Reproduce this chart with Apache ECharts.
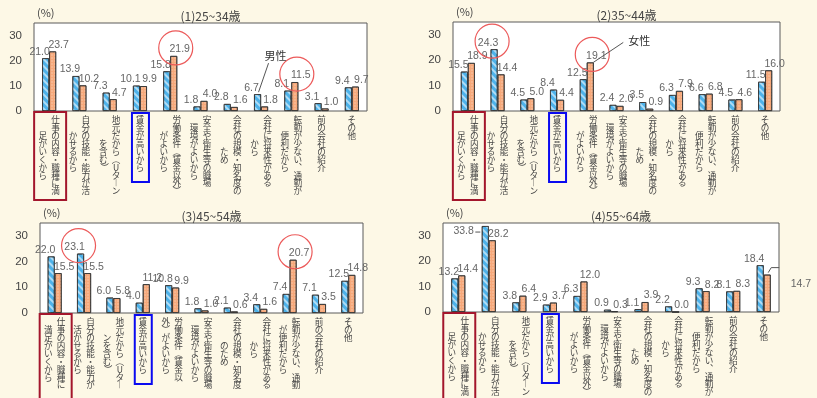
<!DOCTYPE html>
<html>
<head>
<meta charset="utf-8" />
<title>転職入職者が現在の会社を選んだ理由（年齢階級別・男女別）</title>
<script src="https://cdn.jsdelivr.net/npm/echarts@6/dist/echarts.min.js"></script>
<style>
    body { margin: 0; background-color: #fdf8e6; }
    #main { width: 817px; height: 398px; }
</style>
</head>
<body>
<div id="main"></div>
<script type="text/javascript">
    // 項目名: [右の列, 左の列]（縦書き）
    var labelsA = [
        ['仕事の内容・職種に満', '足がいくから'],
        ['自分の技能・能力が活', 'かせるから'],
        ['地元だから（Uターン', 'を含む）'],
        ['賃金が高いから'],
        ['労働条件（賃金以外）', 'がよいから'],
        ['安全や衛生等の職場', '環境がよいから'],
        ['会社の規模・知名度の', 'ため'],
        ['会社に将来性がある', 'から'],
        ['転勤が少ない、通勤が', '便利だから'],
        ['前の会社の紹介'],
        ['その他']
    ];
    var labelsC = [
        ['仕事の内容・職種に', '満足がいくから'],
        ['自分の技能・能力が', '活かせるから'],
        ['地元だから（Uター', 'ンを含む）'],
        ['賃金が高いから'],
        ['労働条件（賃金以', '外）がよいから'],
        ['安全や衛生等の職場', '環境がよいから'],
        ['会社の規模・知名度', 'のため'],
        ['会社に将来性がある', 'から'],
        ['転勤が少ない、通勤', 'が便利だから'],
        ['前の会社の紹介'],
        ['その他']
    ];
    var panelTitles = ['(1)25~34歳', '(2)35~44歳', '(3)45~54歳', '(4)55~64歳'];

    var male1   = [21.0, 13.9, 7.3, 10.1, 15.8, 1.8, 2.8, 6.7, 8.1, 3.1, 9.4];
    var female1 = [23.7, 10.2, 4.7, 9.9, 21.9, 4.0, 1.6, 1.8, 11.5, 1.0, 9.7];
    var male2   = [15.5, 24.3, 4.5, 8.4, 12.5, 2.4, 3.5, 6.3, 6.6, 4.5, 11.5];
    var female2 = [18.9, 14.4, 5.0, 4.4, 19.1, 2.0, 0.9, 7.9, 6.8, 4.6, 16.0];
    var male3   = [22.0, 23.1, 6.0, 4.0, 10.8, 1.8, 2.1, 3.4, 7.4, 7.1, 12.5];
    var female3 = [15.5, 15.5, 5.8, 11.2, 9.9, 1.0, 0.6, 1.6, 20.7, 3.5, 14.8];
    var male4   = [13.2, 33.8, 3.8, 2.9, 6.3, 0.9, 1.1, 2.2, 9.3, 8.1, 18.4];
    var female4 = [14.4, 28.2, 6.4, 3.7, 12.0, 0.3, 3.9, 0.0, 8.2, 8.3, 14.7];

    var yTicks = [0, 10, 20, 30];

    // 赤丸で囲む値: [パネル, 0=男性/1=女性, 項目番号]
    var circled = [[0, 1, 4], [0, 1, 8], [1, 0, 1], [1, 1, 4], [2, 0, 1], [2, 1, 8]];

    var maleData = [male1, male2, male3, male4];
    var femaleData = [female1, female2, female3, female4];
    var panelLabels = [labelsA, labelsA, labelsC, labelsA];

    var grids = [
        {left: 34, top: 23, width: 333, height: 88},
        {left: 453, top: 22, width: 327, height: 89},
        {left: 40, top: 223, width: 323, height: 90},
        {left: 443, top: 223, width: 336, height: 89}
    ];

    var FONT = '"Noto Sans CJK JP", sans-serif';

    // 縦書き用の文字
    var vmap = {'（': '︵', '）': '︶', 'ー': '︱', '、': '︑'};
    function vert(cols) {
        var r = cols[0].split('').map(function (c) { return vmap[c] || c; });
        if (cols.length == 1) return r.join('\n');
        var l = cols[1].split('').map(function (c) { return vmap[c] || c; });
        var pad = Math.floor((r.length - l.length) / 2);
        var lines = [];
        for (var i = 0; i < r.length; i++) {
            var lc = (i >= pad && i - pad < l.length) ? l[i - pad] : '　';
            lines.push(lc + '\u2002' + r[i]);
        }
        return lines.join('\n');
    }

    var myChart = echarts.init(document.getElementById('main'), null, {renderer: 'canvas'});

    var option = {
        backgroundColor: '#fdf8e6',
        animation: false,
        title: [],
        grid: [],
        xAxis: [],
        yAxis: [],
        series: []
    };

    grids.forEach(function (g, i) {
        option.grid.push({
            left: g.left, top: g.top, width: g.width, height: g.height,
            show: true, backgroundColor: '#ffffff', borderColor: '#5a5a5a', borderWidth: 1
        });
        option.title.push({
            text: panelTitles[i],
            left: g.left + g.width / 2 + 5, top: g.top - 18, textAlign: 'center',
            textStyle: {fontSize: 12, fontWeight: 'normal', color: '#444', fontFamily: FONT}
        });
        option.xAxis.push({
            type: 'category', gridIndex: i,
            data: panelLabels[i].map(vert),
            axisLine: {show: false}, axisTick: {show: false},
            axisLabel: {
                interval: 0, margin: 5, fontSize: 8.6, lineHeight: 7.9,
                color: '#444', fontFamily: FONT, align: 'center'
            }
        });
        option.yAxis.push({
            type: 'value', gridIndex: i, min: 0, max: 35, interval: 10,
            axisLine: {show: false}, axisTick: {show: false}, splitLine: {show: false},
            axisLabel: {
                margin: 12, fontSize: 11.5, color: '#444', showMaxLabel: false,
                formatter: function (v) { return yTicks.indexOf(v) >= 0 ? v : ''; }
            }
        });
        [maleData[i], femaleData[i]].forEach(function (d, s) {
            option.series.push({
                type: 'bar', name: s == 0 ? '男性' : '女性',
                xAxisIndex: i, yAxisIndex: i, data: d,
                barWidth: 7, barGap: '0%',
                itemStyle: {
                    color: s == 0 ? '#4db2ea' : '#f6a87a',
                    borderColor: '#333', borderWidth: 0.8,
                    decal: s == 0 ? {
                        symbol: 'rect', symbolSize: 1,
                        dashArrayX: [1, 0], dashArrayY: [1.5, 2.5],
                        rotation: Math.PI / 4, color: 'rgba(255,255,255,0.55)'
                    } : {
                        symbol: 'circle', symbolSize: 0.7,
                        dashArrayX: [[2, 1]], dashArrayY: [2, 1],
                        color: 'rgba(255,255,255,0.45)'
                    }
                },
                label: {
                    show: true, position: 'top', distance: 1,
                    offset: [s == 0 ? -6 : 6, 0],
                    color: '#666', fontSize: 10.5, formatter: function (p) { return p.value.toFixed(1); }
                }
            });
        });
    });

    // パネル4の枠外に出るラベル
    option.series[6].data = male4.map(function (v, k) {
        return k == 1 ? {value: v, label: {position: 'left', distance: 8, offset: [0, -38]}} : v;
    });
    option.series[7].data = female4.map(function (v, k) {
        return k == 10 ? {value: v, label: {position: 'right', distance: 20, offset: [0, -9]}} : v;
    });

    myChart.setOption(option);

    // 注記（赤丸・枠・男性/女性）
    var graphics = [];
    function barTop(p, s, k) {
        var v = (s == 0 ? maleData : femaleData)[p][k];
        var pt = myChart.convertToPixel({gridIndex: p}, [k, v]);
        return [pt[0] + (s == 0 ? -3.5 : 3.5), pt[1]];
    }
    circled.forEach(function (c) {
        var t = barTop(c[0], c[1], c[2]);
        graphics.push({
            type: 'circle', shape: {cx: t[0] + (c[1] == 0 ? -2 : 2), cy: t[1] - 8, r: 17},
            style: {fill: 'none', stroke: '#ec5a5a', lineWidth: 1.2}, z: 100
        });
    });
    grids.forEach(function (g, i) {
        var bottom = g.top + g.height;
        var c1 = myChart.convertToPixel({gridIndex: i}, [0, 0])[0];
        var c4 = myChart.convertToPixel({gridIndex: i}, [3, 0])[0];
        graphics.push({
            type: 'rect', shape: {x: c1 - 15, y: bottom + 1, width: 32, height: 88},
            style: {fill: 'none', stroke: '#a3162c', lineWidth: 2}, z: 100
        });
        graphics.push({
            type: 'rect', shape: {x: c4 - 8, y: bottom + 2, width: 17, height: 69},
            style: {fill: 'none', stroke: '#0a0af0', lineWidth: 2}, z: 100
        });
        graphics.push({
            type: 'text', x: g.left + 3, y: g.top - 16,
            style: {text: '(%)', fontSize: 11, fill: '#444', fontFamily: FONT}, z: 100
        });
    });
    // パネル4の引き出し線
    var a = barTop(3, 0, 1);
    graphics.push({
        type: 'line', shape: {x1: a[0] - 10, y1: a[1] + 6, x2: a[0] - 5, y2: a[1] + 6},
        style: {stroke: '#555', lineWidth: 1}, z: 100
    });
    var b = barTop(3, 1, 10);
    graphics.push({
        type: 'polyline', shape: {points: [[b[0] + 1, b[1] - 2], [b[0] + 4, b[1] - 7], [b[0] + 12, b[1] - 7]]},
        style: {stroke: '#555', lineWidth: 1, fill: 'none'}, z: 100
    });
    var m = barTop(0, 0, 7);
    graphics.push({
        type: 'line', shape: {x1: m[0] + 11, y1: m[1] - 31, x2: m[0] + 1, y2: m[1] - 2},
        style: {stroke: '#555', lineWidth: 1}, z: 100
    });
    graphics.push({
        type: 'text', x: m[0] + 7, y: m[1] - 44,
        style: {text: '男性', fontSize: 11, fill: '#333', fontFamily: FONT}, z: 100
    });
    var f = barTop(1, 1, 4);
    graphics.push({
        type: 'line', shape: {x1: f[0] + 33, y1: f[1] - 20, x2: f[0] + 3, y2: f[1]},
        style: {stroke: '#555', lineWidth: 1}, z: 100
    });
    graphics.push({
        type: 'text', x: f[0] + 38, y: f[1] - 27,
        style: {text: '女性', fontSize: 11, fill: '#333', fontFamily: FONT}, z: 100
    });
    myChart.setOption({graphic: graphics});
</script>
</body>
</html>
